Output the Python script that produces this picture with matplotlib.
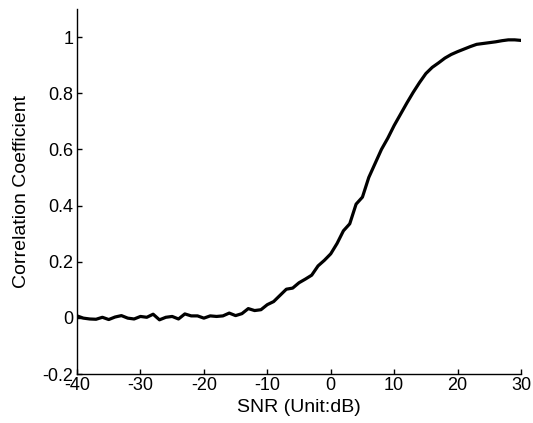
import matplotlib
matplotlib.use("Agg")
import matplotlib.pyplot as plt

# SNR sweep (dB) and measured correlation coefficient
snr = list(range(-40, 31))
corr = [0.007, -0.001, -0.004, -0.005, 0.002, -0.006, 0.003, 0.008, -0.001, -0.004,
        0.005, 0.002, 0.013, -0.007, 0.002, 0.005, -0.004, 0.014, 0.007, 0.007,
        -0.001, 0.007, 0.005, 0.007, 0.017, 0.008, 0.015, 0.033, 0.026, 0.029,
        0.047, 0.058, 0.080, 0.102, 0.106, 0.125, 0.138, 0.152, 0.185, 0.205,
        0.228, 0.265, 0.310, 0.335, 0.405, 0.430, 0.500, 0.550, 0.600, 0.640,
        0.685, 0.725, 0.765, 0.803, 0.838, 0.870, 0.892, 0.908, 0.925, 0.938,
        0.948, 0.957, 0.966, 0.974, 0.977, 0.980, 0.983, 0.987, 0.990, 0.990,
        0.988]

xticks = [-40, -30, -20, -10, 0, 10, 20, 30]
yticks = [-0.2, 0, 0.2, 0.4, 0.6, 0.8, 1]
yticklabels = ['-0.2', '0', '0.2', '0.4', '0.6', '0.8', '1']

plt.rcParams['font.family'] = ['Liberation Sans', 'DejaVu Sans']

fig = plt.figure(figsize=(5.33, 4.23), dpi=100)
ax = fig.add_axes([0.1445, 0.1158, 0.833, 0.863])

ax.plot(snr, corr, color='black', linewidth=2.3)

ax.set_xlim(-40, 30)
ax.set_ylim(-0.2, 1.1)
ax.set_xticks(xticks)
ax.set_xticklabels([str(t) for t in xticks])
ax.set_yticks(yticks)
ax.set_yticklabels(yticklabels)

ax.spines['top'].set_visible(False)
ax.spines['right'].set_visible(False)
for s in ('left', 'bottom'):
    ax.spines[s].set_linewidth(1.0)
ax.tick_params(direction='in', length=3.5, width=1.0, labelsize=13, pad=2.5)

ax.set_xlabel('SNR (Unit:dB)', fontsize=14, labelpad=3)
ax.set_ylabel('Correlation Coefficient', fontsize=14, labelpad=9)

fig.savefig('out.png', dpi=100)
